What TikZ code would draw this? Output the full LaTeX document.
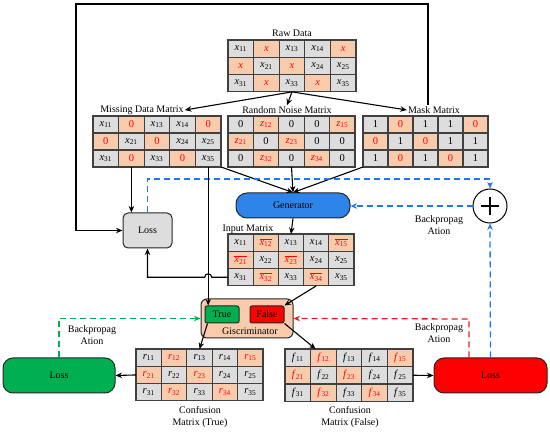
\documentclass[tikz,border=0pt]{standalone}
\usepackage{fontspec}
\setmainfont{Liberation Serif}
\usetikzlibrary{arrows.meta,calc}
\definecolor{peach}{RGB}{248,203,173}
\definecolor{cgrey}{RGB}{221,221,221}
\definecolor{cborder}{RGB}{64,64,64}
\definecolor{genblue}{RGB}{46,132,232}
\definecolor{dblue}{RGB}{30,120,235}
\definecolor{dgreen}{RGB}{0,176,80}
\definecolor{dred}{RGB}{225,30,30}
\definecolor{lossgreen}{RGB}{0,176,80}
\definecolor{lossred}{RGB}{255,0,0}
\definecolor{txtred}{RGB}{255,0,0}
\newcommand\vv[2]{\textit{#1}\textsubscript{#2}}
\newcommand\ob[2]{$\overline{\mbox{\textit{#1}\textsubscript{#2}}}$}
\tikzset{
 cell/.style={draw=cborder, line width=1.1pt, inner sep=0pt, outer sep=0pt, font=\fontsize{10.5}{11}\selectfont},
 gcell/.style={cell, fill=cgrey},
 pcell/.style={cell, fill=peach, text=txtred},
 lbl/.style={font=\fontsize{10}{12}\selectfont, inner sep=1pt},
 tip/.style={-{Stealth[length=6.5pt,width=5.5pt]}},
 conn/.style={line width=1.1pt, tip},
 bdash/.style={dblue, line width=1.3pt, dash pattern=on 6pt off 4pt, tip},
 gdash/.style={dgreen, line width=1.3pt, dash pattern=on 6pt off 4pt, tip},
 rdash/.style={dred, line width=1.3pt, dash pattern=on 6pt off 4pt, tip},
 lossbox/.style={draw=black!85, line width=1pt, font=\fontsize{10}{12}\selectfont},
}
\newcommand\drawmat[6]{%
 \foreach \ent [count=\i from 0] in {#6}{%
  \pgfmathtruncatemacro\rr{int(\i/5)+1}%
  \pgfmathtruncatemacro\cc{mod(\i,5)+1}%
  \pgfmathtruncatemacro\pk{(\i==1||\i==4||\i==5||\i==7||\i==11||\i==13)?1:0}%
  \ifnum\pk=1\relax
   \node[pcell, minimum width=#4pt, minimum height=#5pt] (#1-\rr-\cc) at ({#2+(\cc-0.5)*#4},{#3+(\rr-0.5)*#5}) {\ent};
  \else
   \node[gcell, minimum width=#4pt, minimum height=#5pt] (#1-\rr-\cc) at ({#2+(\cc-0.5)*#4},{#3+(\rr-0.5)*#5}) {\ent};
  \fi
 }}
\begin{document}
\begin{tikzpicture}[x=1pt,y=-1pt]
\useasboundingbox (0,0) rectangle (550,433);
% matrices
\drawmat{raw}{228}{40}{25.6}{17.3}{\vv{x}{11},\textit{x},\vv{x}{13},\vv{x}{14},\textit{x},\textit{x},\vv{x}{21},\textit{x},\vv{x}{24},\vv{x}{25},\vv{x}{31},\textit{x},\vv{x}{33},\textit{x},\vv{x}{35}}
\drawmat{miss}{93}{116}{25.6}{17}{\vv{x}{11},0,\vv{x}{13},\vv{x}{14},0,0,\vv{x}{21},0,\vv{x}{24},\vv{x}{25},\vv{x}{31},0,\vv{x}{33},0,\vv{x}{35}}
\drawmat{noise}{228}{116}{25.4}{17}{0,\vv{z}{12},0,0,\vv{z}{15},\vv{z}{21},0,\vv{z}{23},0,0,0,\vv{z}{32},0,\vv{z}{34},0}
\drawmat{mask}{363}{116}{25}{17}{1,0,1,1,0,0,1,0,1,1,1,0,1,0,1}
\drawmat{inp}{228}{234}{25.2}{17.3}{\vv{x}{11},\ob{x}{12},\vv{x}{13},\vv{x}{14},\ob{x}{15},\ob{x}{21},\vv{x}{22},\ob{x}{23},\vv{x}{24},\vv{x}{25},\vv{x}{31},\ob{x}{32},\vv{x}{33},\ob{x}{34},\vv{x}{35}}
\drawmat{ct}{136}{349}{25.4}{17.3}{\vv{r}{11},\vv{r}{12},\vv{r}{13},\vv{r}{14},\vv{r}{15},\vv{r}{21},\vv{r}{22},\vv{r}{23},\vv{r}{24},\vv{r}{25},\vv{r}{31},\vv{r}{32},\vv{r}{33},\vv{r}{34},\vv{r}{35}}
\drawmat{cf}{285}{349}{25.6}{17.5}{\vv{f}{11},\vv{f}{12},\vv{f}{13},\vv{f}{14},\vv{f}{15},\vv{f}{21},\vv{f}{22},\vv{f}{23},\vv{f}{24},\vv{f}{25},\vv{f}{31},\vv{f}{32},\vv{f}{33},\vv{f}{34},\vv{f}{35}}
% labels
\node[lbl] (rawlbl) at (292,33) {Raw Data};
\node[lbl] (misslbl) at (142,110) {Missing Data Matrix};
\node[lbl] (noiselbl) at (287,110) {Random Noise Matrix};
\node[lbl] (masklbl) at (434,110) {Mask Matrix};
\node[lbl] (inplbl) at (248,229) {Input Matrix};
\node[lbl, align=center] (ctlbl) at (200,417) {Confusion\\Matrix (True)};
\node[lbl, align=center] (cflbl) at (350,417) {Confusion\\Matrix (False)};
\node[lbl, align=center] (bpblue) at (439,225) {Backpropag\\Ation};
\node[lbl, align=center] (bpred) at (439,333) {Backpropag\\Ation};
\node[lbl, align=center] (bpgreen) at (92,335) {Backpropag\\Ation};
% boxes
\node[lossbox, fill=genblue, rounded corners=11pt, minimum width=114pt, minimum height=25pt] (gen) at (293,205.5) {Generator};
\node[lossbox, fill=cgrey, rounded corners=5pt, minimum width=49pt, minimum height=35pt] (loss) at (147.5,230.5) {Loss};
\node[lossbox, fill=lossgreen, rounded corners=10pt, minimum width=112pt, minimum height=35pt] (gloss) at (59,375.5) {Loss};
\node[lossbox, fill=lossred, rounded corners=10pt, minimum width=113pt, minimum height=35pt] (rloss) at (490.5,375.5) {Loss};
\node[draw=black!85, line width=1pt, fill=peach, rounded corners=6pt, minimum width=92pt, minimum height=39pt] (disc) at (247,318.5) {};
\node[lbl] (disclbl) at (250,331.5) {Giscriminator};
\node[draw=black!85, line width=1pt, fill=dgreen, rounded corners=2pt, minimum width=34pt, minimum height=17pt, inner sep=0pt, font=\fontsize{10}{12}\selectfont] (true) at (222,314.5) {True};
\node[draw=black!85, line width=1pt, fill=lossred, rounded corners=2pt, minimum width=34pt, minimum height=17pt, inner sep=0pt, font=\fontsize{10}{12}\selectfont] (false) at (267,314.5) {False};
\node[circle, draw=black, line width=1pt, minimum size=34pt, inner sep=0pt] (plus) at (490,206) {};
\draw[line width=1.6pt] ($(plus)+(-9,0)$) -- ($(plus)+(9,0)$);
\draw[line width=1.6pt] ($(plus)+(0,-9)$) -- ($(plus)+(0,9)$);
% coordinates
\coordinate (tl) at (76,4);
\coordinate (tr) at (428,4);
\coordinate (bt) at (490,179);
\coordinate (rd) at (469,319);
% raw data arrows
\draw[conn] (raw-3-3.south) -- (misslbl.east);
\draw[conn] (raw-3-3.south) -- (noiselbl.north);
\draw[conn] (raw-3-3.south) -- (masklbl.west);
% top loop mask -> loss
\draw[conn] (masklbl.north -| tr) -- (tr) -- (tl) -- (tl |- loss.west) -- (loss.west);
% to generator
\draw[conn] (miss-3-5.south east) -- (gen.north);
\draw[conn] (noise-3-3.south) -- (gen.north);
\draw[conn] (mask-3-1.south west) -- (gen.north);
\draw[conn] (gen.south) -- (inp-1-3.north);
% missing -> loss
\draw[conn] (miss-3-2.south) -- (miss-3-2.south |- loss.north);
% blue dashed
\draw[bdash] (loss.north) -- (loss.north |- bt) -- (bt) -- (plus.north);
\draw[bdash] (plus.west) -- (plus.west -| gen.east);
\draw[bdash] (rloss.north) -- (plus.south);
% missing x35 -> true
\draw[conn] (miss-3-5.south) -- (miss-3-5.south |- true.north);
% input -> loss with hop
\draw[conn] (inp-3-1.west) -- ($(miss-3-5.south |- inp-3-1.west)+(3.5,0)$) .. controls +(0,-4.5) and +(0,-4.5) .. ($(miss-3-5.south |- inp-3-1.west)+(-3.5,0)$) -- (loss.south |- inp-3-1.west) -- (loss.south);
% input -> false
\draw[conn] (inp-3-4.south) -- (false.north east);
% discriminator -> confusion
\draw[conn] ($(true.south west)+(3,0)$) -- (ct-1-3.north);
\draw[conn] (false.south east) -- ($(cf-1-2.north west)+(5,0)$);
% confusion -> loss
\draw[conn] (ct-2-1.west) -- (gloss.east);
\draw[conn] (cf-2-5.east) -- (rloss.west);
% backprop to discriminator
\draw[gdash] (gloss.north) -- (gloss.north |- disc.west) -- (disc.west);
\draw[rdash] (rd |- rloss.north) -- (rd) -- (disc.east);
\end{tikzpicture}
\end{document}
